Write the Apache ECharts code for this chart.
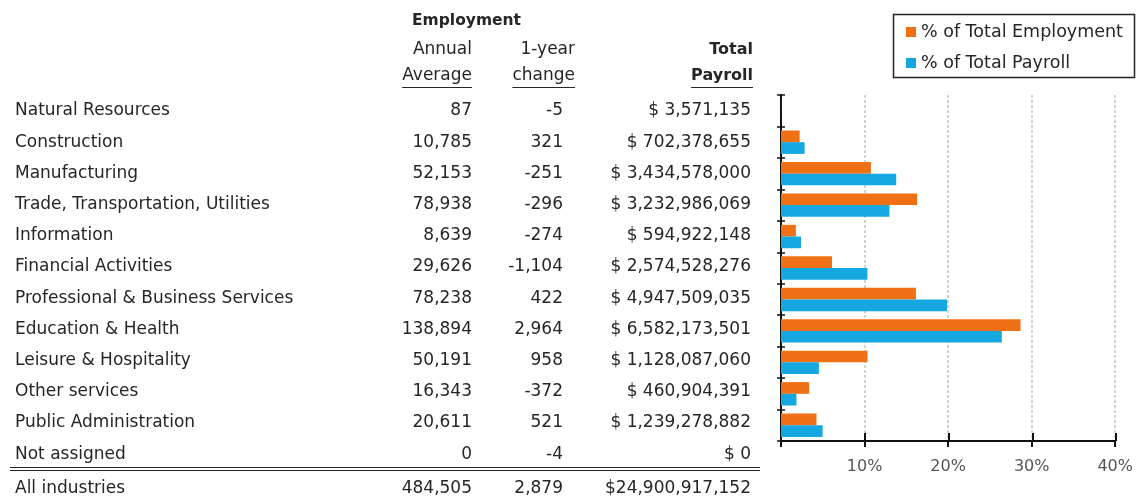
<!DOCTYPE html>
<html>
<head>
<meta charset="utf-8">
<script src="https://cdn.jsdelivr.net/npm/echarts@6/dist/echarts.min.js"></script>
<style>
  html, body { margin: 0; padding: 0; background: #fff; }
  #chart { width: 1136px; height: 499px; }
</style>
</head>
<body>
<div id="chart"></div>
<script>
// Table rows: industries, then the "All industries" total row
const industries = [
  'Natural Resources', 'Construction', 'Manufacturing',
  'Trade, Transportation, Utilities', 'Information', 'Financial Activities',
  'Professional & Business Services', 'Education & Health',
  'Leisure & Hospitality', 'Other services', 'Public Administration',
  'Not assigned', 'All industries'
];
const annualAverage = [87, 10785, 52153, 78938, 8639, 29626, 78238, 138894, 50191, 16343, 20611, 0, 484505];
const yearChange = [-5, 321, -251, -296, -274, -1104, 422, 2964, 958, -372, 521, -4, 2879];
const totalPayroll = [3571135, 702378655, 3434578000, 3232986069, 594922148, 2574528276,
  4947509035, 6582173501, 1128087060, 460904391, 1239278882, 0, 24900917152];

// Bar chart: industry shares (percent)
const chartIndustries = industries.slice(0, 11);
const pctEmployment = [0.02, 2.23, 10.76, 16.29, 1.78, 6.11, 16.15, 28.67, 10.36, 3.37, 4.25];
const pctPayroll = [0.01, 2.82, 13.79, 12.98, 2.39, 10.34, 19.87, 26.43, 4.53, 1.85, 4.98];
const seriesNames = ['% of Total Employment', '% of Total Payroll'];
const seriesColors = ['#F07015', '#14A7E0'];
const xTickValues = [0, 10, 20, 30, 40];

const FONT_FAMILY = '"DejaVu Sans", sans-serif';
const TEXT_COLOR = '#262626';
const fmt = n => n.toLocaleString('en-US');

const measureCtx = document.createElement('canvas').getContext('2d');
function textWidth(str, font) {
  measureCtx.font = font;
  return measureCtx.measureText(str).width;
}

const ROW_FONT = '17px ' + FONT_FAMILY;
const HEAD_FONT = '17px ' + FONT_FAMILY;
const BOLD_FONT = 'bold 16px ' + FONT_FAMILY;

const COL_NAME = 15, COL_AVG = 472, COL_CHG = 563, COL_PAY = 751;
const ROW_TOP = 111, ROW_PITCH = 31.2, TOTAL_Y = 489;

function txt(x, y, text, align, font) {
  return {
    type: 'text', x: x, y: y, silent: true,
    style: { text: text, font: font || ROW_FONT, fill: TEXT_COLOR,
             textAlign: align, textVerticalAlign: 'middle' }
  };
}
function underline(xRight, y, text, font) {
  const w = textWidth(text, font);
  return {
    type: 'line', silent: true,
    shape: { x1: xRight - w, y1: y, x2: xRight, y2: y },
    style: { stroke: TEXT_COLOR, lineWidth: 1.2 }
  };
}

const graphics = [];
// column headers
graphics.push(txt(412, 21, 'Employment', 'left', 'bold 15.5px ' + FONT_FAMILY));
graphics.push(txt(COL_AVG, 50, 'Annual', 'right', HEAD_FONT));
graphics.push(txt(COL_AVG, 76, 'Average', 'right', HEAD_FONT));
graphics.push(underline(COL_AVG, 87.5, 'Average', HEAD_FONT));
graphics.push(txt(575, 50, '1-year', 'right', HEAD_FONT));
graphics.push(txt(575, 76, 'change', 'right', HEAD_FONT));
graphics.push(underline(575, 87.5, 'change', HEAD_FONT));
graphics.push(txt(753, 50, 'Total', 'right', BOLD_FONT));
graphics.push(txt(753, 76, 'Payroll', 'right', BOLD_FONT));
graphics.push(underline(753, 87.5, 'Payroll', BOLD_FONT));

// table body
industries.forEach((name, i) => {
  const last = i === industries.length - 1;
  const y = last ? TOTAL_Y : ROW_TOP + i * ROW_PITCH;
  graphics.push(txt(COL_NAME, y, name, 'left'));
  graphics.push(txt(COL_AVG, y, fmt(annualAverage[i]), 'right'));
  graphics.push(txt(COL_CHG, y, fmt(yearChange[i]), 'right'));
  graphics.push(txt(COL_PAY, y, (last ? '$' : '$ ') + fmt(totalPayroll[i]), 'right'));
});

// double rule above the total row
[467.5, 470.5].forEach(y => graphics.push({
  type: 'line', silent: true,
  shape: { x1: 10, y1: y, x2: 760, y2: y },
  style: { stroke: '#222', lineWidth: 1.2 }
}));

// legend frame
graphics.push({
  type: 'rect', silent: true,
  shape: { x: 893.5, y: 14.5, width: 241, height: 63 },
  style: { fill: 'none', stroke: '#222', lineWidth: 1.5 }
});

const chart = echarts.init(document.getElementById('chart'), null, { renderer: 'canvas' });

// Two grids share one rectangle: grid 0 carries the bars, labels and outward
// ticks; grid 1 only adds inward ticks so the tick marks cross the axis lines.
const GRID_RECT = { left: 781, top: 95, width: 335, height: 346, containLabel: false };

const catAxisBase = {
  type: 'category',
  data: chartIndustries,
  inverse: true,
  position: 'left',
  axisLabel: { show: false },
  splitLine: { show: false }
};
const valAxisBase = {
  type: 'value',
  min: xTickValues[0],
  max: xTickValues[xTickValues.length - 1],
  interval: 10,
  position: 'bottom'
};

chart.setOption({
  animation: false,
  textStyle: { fontFamily: FONT_FAMILY },
  grid: [Object.assign({}, GRID_RECT), Object.assign({}, GRID_RECT)],
  legend: {
    data: seriesNames,
    orient: 'vertical',
    left: 906, top: 23,
    padding: 0,
    itemWidth: 10, itemHeight: 10,
    itemGap: 13,
    icon: 'rect',
    selectedMode: false,
    textStyle: { fontSize: 17.5, color: TEXT_COLOR, fontFamily: FONT_FAMILY }
  },
  xAxis: [
    Object.assign({}, valAxisBase, {
      gridIndex: 0,
      axisLine: { show: true, lineStyle: { color: '#111', width: 2 } },
      axisTick: { show: true, length: 6, lineStyle: { color: '#111', width: 2 } },
      axisLabel: {
        margin: 18, fontSize: 16, color: '#555', fontFamily: FONT_FAMILY,
        formatter: v => (v === 0 ? '' : v + '%')
      },
      splitLine: { show: true, lineStyle: { color: '#c4c4c4', width: 1.5, type: [3, 2] } }
    }),
    Object.assign({}, valAxisBase, {
      gridIndex: 1,
      axisLine: { show: false },
      axisTick: { show: true, inside: true, length: 8, lineStyle: { color: '#111', width: 2 } },
      axisLabel: { show: false },
      splitLine: { show: false }
    })
  ],
  yAxis: [
    Object.assign({}, catAxisBase, {
      gridIndex: 0,
      axisLine: { show: true, lineStyle: { color: '#111', width: 2 } },
      axisTick: { show: true, length: 4, lineStyle: { color: '#111', width: 1.5 } }
    }),
    Object.assign({}, catAxisBase, {
      gridIndex: 1,
      axisLine: { show: false },
      axisTick: { show: true, inside: true, length: 4, lineStyle: { color: '#111', width: 1.5 } }
    })
  ],
  series: [
    {
      name: seriesNames[0], type: 'bar', data: pctEmployment,
      xAxisIndex: 0, yAxisIndex: 0,
      barWidth: 11.7, barGap: '0%',
      itemStyle: { color: seriesColors[0] }
    },
    {
      name: seriesNames[1], type: 'bar', data: pctPayroll,
      xAxisIndex: 0, yAxisIndex: 0,
      barWidth: 11.7, barGap: '0%',
      itemStyle: { color: seriesColors[1] }
    }
  ],
  graphic: graphics
});
</script>
</body>
</html>
